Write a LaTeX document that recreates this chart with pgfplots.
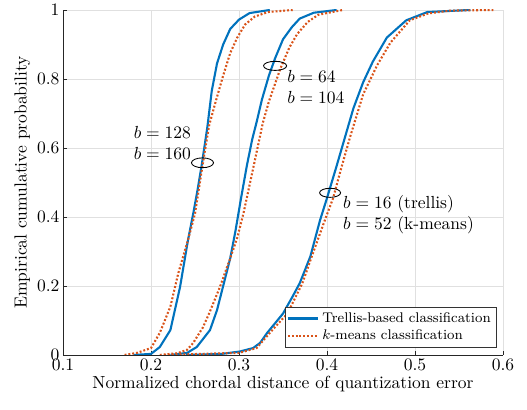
\documentclass[border=0pt]{standalone}
\usepackage{pgfplots}
\pgfplotsset{compat=1.18}
\definecolor{mblue}{RGB}{0,114,189}
\definecolor{morange}{RGB}{217,83,25}
\begin{document}
\begin{tikzpicture}
\begin{axis}[
  scale only axis, width=251.4pt, height=197.1pt,
  xmin=0.1, xmax=0.6, ymin=0, ymax=1,
  xtick={0.1,0.2,...,0.6}, ytick={0,0.2,...,1},
  xticklabels={0.1,0.2,0.3,0.4,0.5,0.6},
  yticklabels={0,0.2,0.4,0.6,0.8,1},
  axis x line*=bottom, axis y line*=left,
  axis line style={-, color=black!85},
  tick align=inside, major tick length=2.5pt,
  tick style={color=black!85},
  xticklabel style={yshift=1.5pt},
  yticklabel style={xshift=1.5pt},
  grid=major, grid style={color=black!12, line width=0.5pt},
  xlabel={Normalized chordal distance of quantization error},
  ylabel={Empirical cumulative probability},
  xlabel style={yshift=4pt},
  ylabel style={yshift=-3pt},
  legend style={at={(0.985,0.02)}, anchor=south east, font=\footnotesize,
    draw=black!80, inner sep=1pt, row sep=-1pt, cells={anchor=west}},
  legend cell align=left,
]
% b = 128 (trellis)
\addplot[mblue, line width=1.2pt] coordinates {
(0.18,0) (0.2,0.003) (0.21,0.023) (0.222,0.072) (0.233,0.197) (0.242,0.333)
(0.248,0.41) (0.253,0.48) (0.258,0.557) (0.264,0.66) (0.269,0.765)
(0.275,0.845) (0.282,0.90) (0.290,0.945) (0.300,0.972) (0.312,0.991) (0.335,1)};
\addlegendentry{Trellis-based classification}
% b = 160 (k-means)
\addplot[morange, line width=1.2pt, dash pattern=on 1.1pt off 1.1pt] coordinates {
(0.17,0) (0.184,0.006) (0.2,0.02) (0.21,0.064) (0.222,0.14) (0.231,0.237)
(0.242,0.333) (0.25,0.41) (0.259,0.557) (0.266,0.665) (0.273,0.73)
(0.282,0.81) (0.290,0.875) (0.298,0.92) (0.307,0.958) (0.318,0.981)
(0.333,0.994) (0.361,1)};
\addlegendentry{$k$-means classification}
% b = 64 (trellis)
\addplot[mblue, line width=1.2pt, forget plot] coordinates {
(0.222,0) (0.241,0.006) (0.252,0.023) (0.267,0.072) (0.275,0.13)
(0.282,0.2) (0.29,0.28) (0.296,0.36) (0.302,0.45) (0.309,0.55)
(0.315,0.625) (0.320,0.675) (0.326,0.74) (0.334,0.81) (0.341,0.86)
(0.35,0.915) (0.36,0.95) (0.369,0.975) (0.385,0.992) (0.411,1)};
% b = 104 (k-means)
\addplot[morange, line width=1.2pt, dash pattern=on 1.1pt off 1.1pt, forget plot] coordinates {
(0.21,0) (0.23,0.005) (0.241,0.015) (0.248,0.035) (0.259,0.08) (0.266,0.12)
(0.278,0.195) (0.29,0.28) (0.298,0.34) (0.305,0.41) (0.316,0.54)
(0.327,0.672) (0.334,0.735) (0.347,0.83) (0.357,0.89) (0.366,0.93)
(0.378,0.965) (0.39,0.986) (0.418,1)};
% b = 16 (trellis)
\addplot[mblue, line width=1.2pt, forget plot] coordinates {
(0.24,0) (0.28,0.003) (0.301,0.01) (0.316,0.02) (0.324,0.035) (0.332,0.064)
(0.35,0.12) (0.361,0.17) (0.369,0.208) (0.381,0.285) (0.392,0.39)
(0.40,0.455) (0.41,0.54) (0.418,0.61) (0.43,0.715) (0.441,0.79) (0.452,0.85)
(0.468,0.92) (0.49,0.97) (0.514,0.994) (0.563,1)};
% b = 52 (k-means)
\addplot[morange, line width=1.2pt, dash pattern=on 1.1pt off 1.1pt, forget plot] coordinates {
(0.215,0) (0.27,0.004) (0.30,0.006) (0.32,0.02) (0.335,0.064) (0.355,0.12)
(0.372,0.208) (0.384,0.295) (0.396,0.38) (0.407,0.455) (0.416,0.54) (0.426,0.63)
(0.441,0.755) (0.457,0.84) (0.472,0.905) (0.494,0.97) (0.515,0.99)
(0.54,0.998) (0.589,1)};
% annotations
\draw[black, line width=0.5pt] (axis cs:0.2585,0.557) ellipse [x radius=6.3pt, y radius=2.8pt];
\draw[black, line width=0.5pt] (axis cs:0.341,0.838) ellipse [x radius=6.6pt, y radius=2.6pt];
\draw[black, line width=0.5pt] (axis cs:0.4035,0.47) ellipse [x radius=6pt, y radius=2.6pt];
\node[anchor=west, align=left, inner sep=0pt] at (axis cs:0.180,0.614) {$b=128$\\$b=160$};
\node[anchor=west, align=left, inner sep=0pt] at (axis cs:0.3545,0.777) {$b=64$\\$b=104$};
\node[anchor=west, align=left, inner sep=0pt] at (axis cs:0.418,0.406) {$b=16$ (trellis)\\$b=52$ (k-means)};
\end{axis}
\pgfresetboundingbox
\path[use as bounding box] ([shift={(-36pt,-31.4pt)}]current axis.south west)
  rectangle ([shift={(13.7pt,5.7pt)}]current axis.north east);
\end{tikzpicture}
\end{document}
